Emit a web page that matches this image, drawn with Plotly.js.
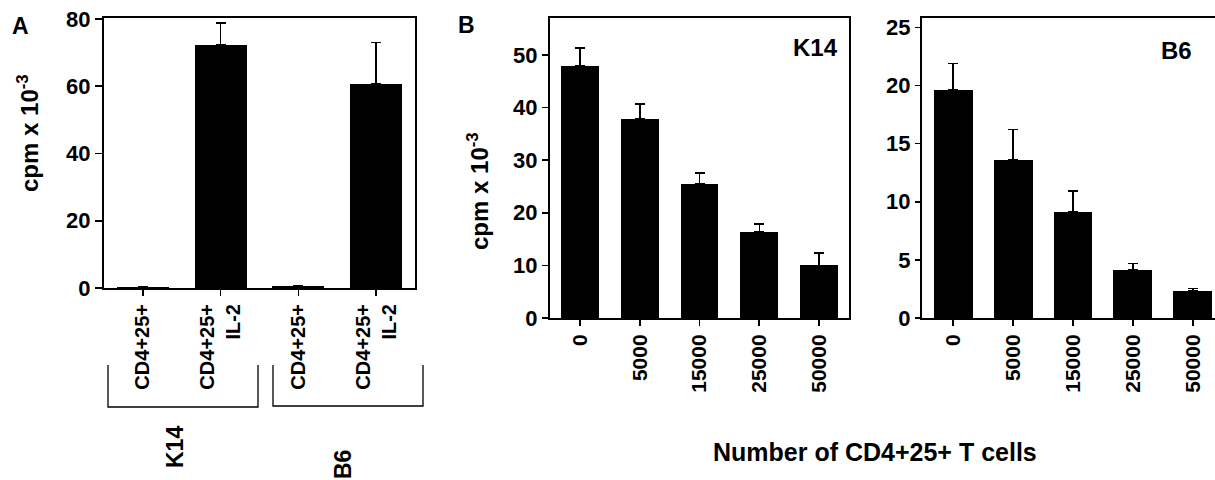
<!DOCTYPE html>
<html><head><meta charset="utf-8">
<script src="https://cdn.plot.ly/plotly-3.0.1.min.js"></script>
<style>html,body{margin:0;padding:0;background:#fff}</style>
</head><body><div id="chart" style="width:1215px;height:480px"></div>
<script>
// ---- data ----
const groupsA = ["K14", "B6"];
const catKeysA = ["K14 CD4+25+", "K14 CD4+25+ IL-2", "B6 CD4+25+", "B6 CD4+25+ IL-2"];
const tickLabelsA = ["CD4+25+", "CD4+25+<br>IL-2", "CD4+25+", "CD4+25+<br>IL-2"];
const valuesA = [0.3, 72.3, 0.6, 60.7];
const errorsA = [null, 6.5, null, 12.3];
const cellNumbers = ["0", "5000", "15000", "25000", "50000"];
const valuesK14 = [47.9, 37.8, 25.5, 16.3, 10.0];
const errorsK14 = [3.4, 2.9, 2.0, 1.6, 2.3];
const valuesB6 = [19.6, 13.6, 9.1, 4.15, 2.3];
const errorsB6 = [2.3, 2.6, 1.8, 0.55, 0.25];
const ticksA = [0, 20, 40, 60, 80];
const yTitle = "cpm x 10<sup>-3</sup>";
const xTitleB = "Number of CD4+25+ T cells";

// ---- helpers ----
const W = 1215, H = 480;
const px = x => x / W;
const py = y => 1 - y / H;
const FONT = "Liberation Sans, Arial, Helvetica, sans-serif";
const tf = (s) => ({family: FONT, size: s, color: "#000", weight: "bold"});

function errBar(arr) {
  return {type: "data", array: arr, arrayminus: arr.map(v => v === null ? null : 0),
          symmetric: false, color: "#000", thickness: 1.6, width: 5};
}
function note(text, x, y, size, angle) {
  const a = {text: text, x: px(x), y: py(y), xref: "paper", yref: "paper", showarrow: false,
    xanchor: "center", yanchor: "middle", font: tf(size)};
  if (angle) a.textangle = angle;
  return a;
}

const traces = [
  {type: "bar", x: catKeysA, y: valuesA, xaxis: "x", yaxis: "y", width: 0.67,
   marker: {color: "#000", line: {width: 0}}, error_y: errBar(errorsA), hoverinfo: "skip"},
  {type: "bar", x: cellNumbers, y: valuesK14, xaxis: "x2", yaxis: "y2", width: 0.63,
   marker: {color: "#000", line: {width: 0}}, error_y: errBar(errorsK14), hoverinfo: "skip"},
  {type: "bar", x: cellNumbers, y: valuesB6, xaxis: "x3", yaxis: "y3", width: 0.65,
   marker: {color: "#000", line: {width: 0}}, error_y: errBar(errorsB6), hoverinfo: "skip"}
];

const axBase = {showline: true, linecolor: "#000", linewidth: 2, showgrid: false, zeroline: false,
  ticks: "outside", tickcolor: "#000", tickwidth: 1.6, automargin: false, fixedrange: true,
  tickfont: tf(20)};

const layout = {
  width: W, height: H, margin: {l: 0, r: 0, t: 0, b: 0},
  paper_bgcolor: "#fff", plot_bgcolor: "#fff", showlegend: false, bargap: 0,
  xaxis: Object.assign({}, axBase, {domain: [px(104), px(415)], anchor: "y", type: "category",
    range: [-0.5, 3.5], tickvals: catKeysA, ticktext: tickLabelsA, tickangle: -90, ticklen: 6,
    mirror: true, tickfont: tf(20)}),
  yaxis: Object.assign({}, axBase, {domain: [py(288), py(18)], anchor: "x", range: [0, 80.3],
    tickvals: ticksA, ticklen: 7, mirror: true, tickfont: tf(22)}),
  xaxis2: Object.assign({}, axBase, {domain: [px(550), px(849)], anchor: "y2", type: "category",
    range: [-0.5, 4.5], tickangle: -90, ticklen: 6, mirror: true, tickfont: tf(21)}),
  yaxis2: Object.assign({}, axBase, {domain: [py(318), py(18)], anchor: "x2", range: [0, 57],
    tick0: 0, dtick: 10, ticklen: 6, mirror: true, tickfont: tf(22)}),
  xaxis3: Object.assign({}, axBase, {domain: [px(922), 1], anchor: "y3", type: "category",
    range: [-0.52, 4.37], tickangle: -90, ticklen: 6, mirror: true, tickfont: tf(21)}),
  yaxis3: Object.assign({}, axBase, {domain: [py(318), py(18)], anchor: "x3", range: [0, 25.8],
    tick0: 0, dtick: 5, ticklen: 5, mirror: false, tickfont: tf(22)}),
  shapes: [
    {type: "path", xref: "paper", yref: "paper",
     path: `M ${px(108)} ${py(365)} L ${px(108)} ${py(407)} L ${px(258)} ${py(407)} L ${px(258)} ${py(365)}`,
     line: {color: "#000", width: 1.3}},
    {type: "path", xref: "paper", yref: "paper",
     path: `M ${px(273)} ${py(365)} L ${px(273)} ${py(406)} L ${px(423)} ${py(406)} L ${px(423)} ${py(365)}`,
     line: {color: "#000", width: 1.3}}
  ],
  annotations: [
    note("A", 20, 26, 23),
    note("B", 466, 25, 23),
    note(yTitle, 28, 133, 24, -90),
    note(yTitle, 478, 191, 24, -90),
    note("K14", 815, 48, 24),
    note("B6", 1176, 51, 24),
    note(groupsA[0], 175, 447, 23, -90),
    note(groupsA[1], 343, 465, 23, -90),
    note(xTitleB, 875, 452, 25)
  ]
};

Plotly.newPlot("chart", traces, layout, {displayModeBar: false, staticPlot: true});
</script>
</body></html>
